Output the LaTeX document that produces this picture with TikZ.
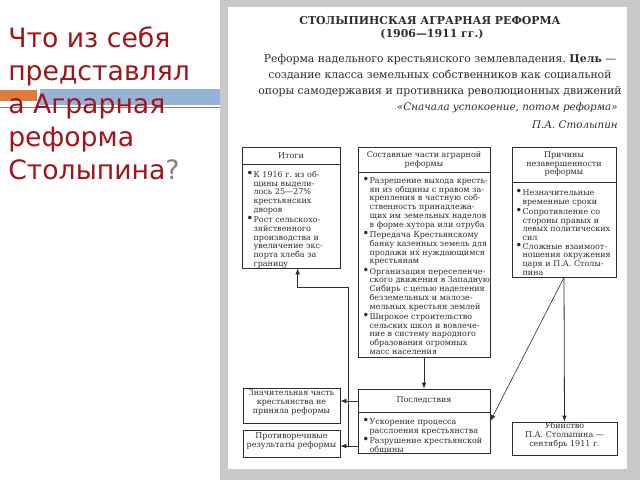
\documentclass[tikz,border=0pt]{standalone}
\usepackage{fontspec}
\usepackage{graphicx}
\setmainfont{DejaVu Serif}
\newfontfamily\ttlfont{DejaVu Sans}
\usetikzlibrary{arrows.meta,fit}
\frenchspacing
\definecolor{ttlred}{RGB}{160,20,25}
\definecolor{framegray}{RGB}{200,200,200}
\definecolor{ink}{RGB}{45,45,45}
\definecolor{barblue}{RGB}{149,179,215}
\definecolor{barorange}{RGB}{224,123,57}
\newcommand\bul[1]{\par\noindent\makebox[5.5pt][l]{\raisebox{-0.2pt}{\scalebox{1.5}{\textbullet}}}\parbox[t]{150pt}{\raggedright #1}\par}
\begin{document}
\begin{tikzpicture}[x=0.75pt,y=-0.75pt,
  box/.style={draw=ink,line width=0.6pt,inner sep=0pt},
  small/.style={font=\fontsize{6.0}{6.6}\selectfont,text=ink,inner sep=0pt},
  body/.style={small,align=left,anchor=north west},
  head/.style={small,align=center,anchor=center},
  arr/.style={draw=ink,line width=0.6pt,-{Latex[length=4.5pt,width=3.5pt]}},
  link/.style={draw=ink,line width=0.6pt}]
\useasboundingbox (0,0) rectangle (640,480);
\fill[white] (0,0) rectangle (640,480);
% frame of the scan
\fill[framegray] (220,0) rectangle (640,480);
\fill[white] (228,7) rectangle (627,469);
% decorative bars
\fill[barorange] (0,90) rectangle (37,101);
\fill[barblue] (40,89) rectangle (220,105);
\draw[gray,line width=0.8pt] (0,107.5) -- (220,107.5);
% slide title
\node[anchor=north west,align=left,inner sep=0pt,text=ttlred,
  font=\ttlfont\fontsize{20}{24.75}\selectfont] (ttl) at (8,27)
  {Что из себя\\представлял\\а Аграрная\\реформа\\Столыпина\textcolor{gray}{?}};
% scan header
\node[anchor=base,inner sep=0pt,text=ink,font=\bfseries\fontsize{8.2}{10}\selectfont] (t1) at (430,24) {СТОЛЫПИНСКАЯ АГРАРНАЯ РЕФОРМА};
\node[anchor=base,inner sep=0pt,text=ink,font=\bfseries\fontsize{8.2}{10}\selectfont] (t2) at (432,37) {(1906—1911 гг.)};
\node[anchor=base,inner sep=0pt,text=ink,font=\fontsize{8.15}{10}\selectfont] (p1) at (440,62) {Реформа надельного крестьянского землевладения. \textbf{Цель} —};
\node[anchor=base,inner sep=0pt,text=ink,font=\fontsize{8.15}{10}\selectfont] (p2) at (440,78) {создание класса земельных собственников как социальной};
\node[anchor=base,inner sep=0pt,text=ink,font=\fontsize{8.15}{10}\selectfont] (p3) at (440,94) {опоры самодержавия и противника революционных движений};
\node[anchor=base east,inner sep=0pt,text=ink,font=\itshape\fontsize{7.75}{10}\selectfont] (q1) at (618,110) {«Сначала успокоение, потом реформа»};
\node[anchor=base east,inner sep=0pt,text=ink,font=\itshape\fontsize{7.75}{10}\selectfont] (q2) at (618,128) {П.А. Столыпин};
% boxes
\node[box,fit={(242,147) (340,268)}] (itogi) {};
\draw[link] (242,164) -- (340,164);
\node[head] (itogih) at (291,156) {Итоги};
\node[body,text width=69pt] (itogib) at (246,167) {\setlength{\parskip}{0.9pt}%
\bul{К 1916 г. из об-\\щины выдели-\\лось 25—27\%\\крестьянских\\дворов}
\bul{Рост сельскохо-\\зяйственного\\производства и\\увеличение экс-\\порта хлеба за\\границу}};

\node[box,fit={(358,147) (490,357)}] (sost) {};
\draw[link] (358,172) -- (490,172);
\node[head] (sosth) at (424,160) {Составные части аграрной\\реформы};
\node[body,text width=97pt] (sostb) at (362,173) {\setlength{\parskip}{0.9pt}%
\bul{Разрешение выхода кресть-\\ян из общины с правом за-\\крепления в частную соб-\\ственность принадлежа-\\щих им земельных наделов\\в форме хутора или отруба}
\bul{Передача Крестьянскому\\банку казенных земель для\\продажи их нуждающимся\\крестьянам}
\bul{Организация переселенче-\\ского движения в Западную\\Сибирь с целью наделения\\безземельных и малозе-\\мельных крестьян землей}
\bul{Широкое строительство\\сельских школ и вовлече-\\ние в систему народного\\образования огромных\\масс населения}};

\node[box,fit={(512,147) (616,277)}] (prich) {};
\draw[link] (512,182) -- (616,182);
\node[head] (prichh) at (564,164) {Причины\\незавершенности\\реформы};
\node[body,text width=76pt] (prichb) at (515,185) {\setlength{\parskip}{0.9pt}%
\bul{Незначительные\\временные сроки}
\bul{Сопротивление со\\стороны правых и\\левых политических\\сил}
\bul{Сложные взаимоот-\\ношения окружения\\царя и П.А. Столы-\\пина}};

\node[box,fit={(358,389) (490,453)}] (posl) {};
\draw[link] (358,412) -- (490,412);
\node[head] (poslh) at (424,400) {Последствия};
\node[body,text width=97pt] (poslb) at (362,414) {\setlength{\parskip}{0.9pt}%
\bul{Ускорение процесса\\расслоения крестьянства}
\bul{Разрушение крестьянской\\общины}};

\node[box,small,align=center,fit={(243,388) (340,423)}] (znach) {Значительная часть\\крестьянства не\\приняла реформы};
\node[box,small,align=center,fit={(243,430) (340,457)}] (protiv) {Противоречивые\\результаты реформы};
\node[box,small,align=center,fit={(512,422) (617,455)}] (ubiy) {Убийство\\П.А. Столыпина —\\сентябрь 1911 г.};

% connectors
\coordinate (ja) at (348,401);
\coordinate (jb) at (348,446);
\coordinate (jt) at (348,287);
\draw[arr] (sost.south) -- (posl.north);
\draw[arr] (prich.south) -- (ubiy.north);
\draw[arr,line width=0.45pt] (prich.south) -- (posl.east);
\draw[link] (posl.west |- ja) -- (ja);
\draw[link] (posl.west |- jb) -- (jb);
\draw[arr] (ja) -- (znach.east |- ja);
\draw[arr] (jb) -- (protiv.east |- jb);
\draw[arr] (jb) -- (jt) -| ([xshift=5pt]itogi.south);
\end{tikzpicture}
\end{document}
